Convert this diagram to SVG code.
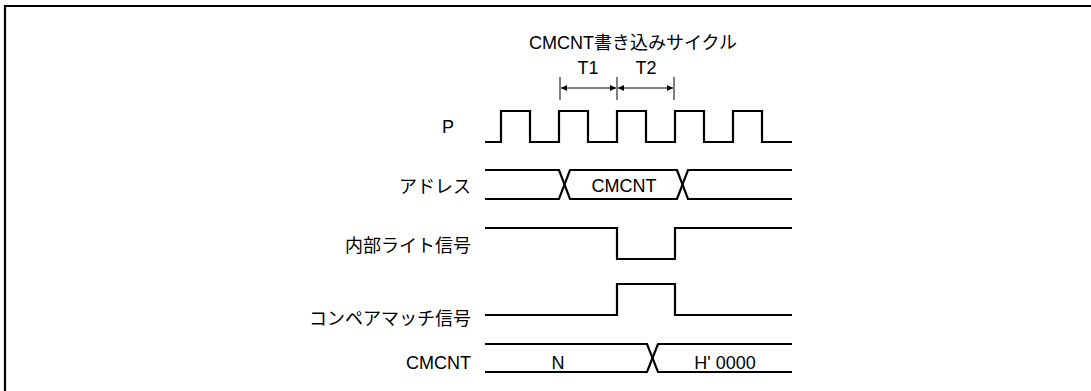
<svg xmlns="http://www.w3.org/2000/svg" width="1091" height="391" viewBox="0 0 1091 391">
<style>
.sig{fill:none;stroke:#000;stroke-width:2.2;stroke-linejoin:miter}
.thin{fill:none;stroke:#000;stroke-width:1}
.lbl{font-family:"Liberation Sans","Noto Sans CJK JP",sans-serif;font-size:18px;fill:#000}
.r{text-anchor:end}
.c{text-anchor:middle}
</style>
<defs>
<marker id="ah" viewBox="0 0 10 10" refX="10" refY="5" markerWidth="8" markerHeight="6" markerUnits="userSpaceOnUse" orient="auto-start-reverse">
<path d="M0,0 L10,5 L0,10 z" fill="#000"/>
</marker>
</defs>
<rect x="0" y="0" width="1091" height="391" fill="#fff"/>
<g id="frame"><path class="sig" d="M5,391 V6 H1091"/></g>
<g id="title"><text class="lbl c" x="633" y="49">CMCNT書き込みサイクル</text></g>
<g id="cycle-marks">
<text class="lbl c" x="588" y="74">T1</text>
<text class="lbl c" x="646" y="74">T2</text>
</g>
<g id="connectors">
<path class="thin" d="M560,77 V100 M617,77 V100 M674,77 V100"/>
<line class="thin" x1="561" y1="88" x2="616" y2="88" marker-start="url(#ah)" marker-end="url(#ah)"/>
<line class="thin" x1="618" y1="88" x2="673" y2="88" marker-start="url(#ah)" marker-end="url(#ah)"/>
</g>
<g id="sig-p">
<text class="lbl c" x="448" y="133">P</text>
<path class="sig" d="M485,142 H501 V111 H530 V142 H559 V111 H588 V142 H617 V111 H646 V142 H675 V111 H704 V142 H733 V111 H762 V142 H792"/>
</g>
<g id="sig-address">
<text class="lbl r" x="471" y="193">アドレス</text>
<path class="sig" d="M485,170 H559 L570,199 H677 L688,170 H792"/>
<path class="sig" d="M485,199 H559 L570,170 H677 L688,199 H792"/>
<text class="lbl c" x="624" y="192">CMCNT</text>
</g>
<g id="sig-write">
<text class="lbl r" x="471" y="252">内部ライト信号</text>
<path class="sig" d="M485,228 H617 V259 H675 V228 H792"/>
</g>
<g id="sig-compare">
<text class="lbl r" x="471" y="325">コンペアマッチ信号</text>
<path class="sig" d="M485,315 H617 V284 H675 V315 H792"/>
</g>
<g id="sig-cmcnt">
<text class="lbl r" x="471" y="369">CMCNT</text>
<path class="sig" d="M485,344 H647 L658,372 H792"/>
<path class="sig" d="M485,372 H647 L658,344 H792"/>
<text class="lbl c" x="558" y="369">N</text>
<text class="lbl c" x="725" y="369">H' 0000</text>
</g>
</svg>
